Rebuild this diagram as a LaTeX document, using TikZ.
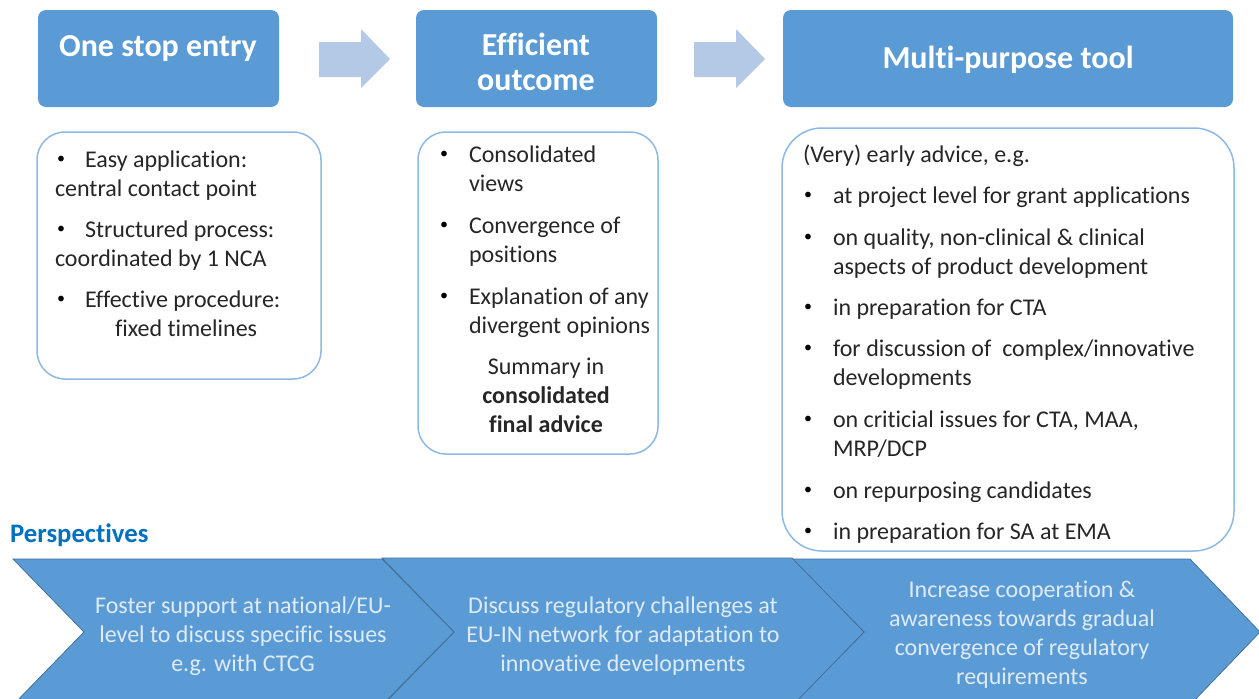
\documentclass[tikz,border=0pt]{standalone}
\usepackage{fontspec}
\setmainfont{Carlito}[Ligatures=NoCommon]
\definecolor{hdr}{HTML}{5B9BD5}
\definecolor{arrowfill}{HTML}{B4C9E6}
\definecolor{boxline}{HTML}{8DB9E4}
\definecolor{chevline}{HTML}{41719C}
\definecolor{persp}{HTML}{0070C0}
\definecolor{chevtext}{HTML}{DEEBF7}
\definecolor{bodytext}{HTML}{262626}
\tikzset{
  x=1pt,y=-1pt,
  body/.style={anchor=base west,inner sep=0pt,outer sep=0pt,yshift=-1.2pt,text=bodytext,font=\fontsize{24}{28}\selectfont},
  bodyc/.style={anchor=base,inner sep=0pt,outer sep=0pt,yshift=-1.2pt,text=bodytext,font=\fontsize{24}{28}\selectfont},
  bulletmark/.style={anchor=base west,inner sep=0pt,outer sep=0pt,yshift=3pt,text=black,font=\fontsize{16}{18}\selectfont},
  hdrtext/.style={anchor=base,inner sep=0pt,yshift=-1.2pt,text=white,font=\fontsize{32}{36}\selectfont\bfseries},
  chevlabel/.style={anchor=base,inner sep=0pt,yshift=-1.2pt,text=chevtext,font=\fontsize{24}{28}\selectfont},
  header/.style={fill=hdr,rounded corners=8pt},
  panel/.style={draw=boxline,line width=1.5pt,fill=white},
  blockarrow/.style={fill=arrowfill},
  chev/.style={fill=hdr,draw=chevline,line width=0.8pt},
}
\begin{document}
\begin{tikzpicture}
\useasboundingbox (0,0) rectangle (1259,699);
\clip (0,0) rectangle (1259,699);
% headers
\fill[header] (38,10) rectangle (279,107);
\fill[header] (416,10) rectangle (657,107);
\fill[header] (783,10) rectangle (1233,107);
\node[hdrtext] (h1) at (158,55) {One stop entry};
\node[hdrtext] (h2a) at (536,54) {Efficient};
\node[hdrtext] (h2b) at (536,89) {outcome};
\node[hdrtext] (h3) at (1008,67) {Multi-purpose tool};
% block arrows
\fill[blockarrow] (319,42) -- (361,42) -- (361,29) -- (390,59) -- (361,88) -- (361,77) -- (319,77) -- cycle;
\fill[blockarrow] (694,42) -- (736,42) -- (736,29) -- (765,59) -- (736,88) -- (736,77) -- (694,77) -- cycle;
% panels
\draw[panel,rounded corners=28pt] (37,132) rectangle (321,379);
\draw[panel,rounded corners=28pt] (418,132) rectangle (658,454);
\draw[panel,rounded corners=40pt] (782,128) rectangle (1234,551);
% panel 1
\foreach \yy/\nm in {166/a,236/b,306/c}{\node[bulletmark] (p1\nm) at (57,\yy) {•};}
\node[body] (t1a) at (85,166) {Easy application:};
\node[body] (t1b) at (55,195) {central contact point};
\node[body] (t1c) at (85,236) {Structured process:};
\node[body] (t1d) at (55,265) {coordinated by 1 NCA};
\node[body] (t1e) at (85,306) {Effective procedure:};
\node[body] (t1f) at (115,335) {fixed timelines};
% panel 2
\foreach \yy/\nm in {161/a,232/b,303/c}{\node[bulletmark] (p2\nm) at (440,\yy) {•};}
\node[body] (t2a) at (469,161) {Consolidated};
\node[body] (t2b) at (469,190) {views};
\node[body] (t2c) at (469,232) {Convergence of};
\node[body] (t2d) at (469,261) {positions};
\node[body] (t2e) at (469,303) {Explanation of any};
\node[body] (t2f) at (469,332) {divergent opinions};
\node[bodyc] (t2g) at (546,373) {Summary in};
\node[bodyc] (t2h) at (546,402) {\bfseries consolidated};
\node[bodyc] (t2i) at (546,431) {\bfseries final advice};
% panel 3
\node[body] (t3a) at (803,161) {(Very) early advice, e.g.};
\foreach \yy/\nm in {202/a,244/b,314/c,355/d,426/e,497/f,538/g}{\node[bulletmark] (p3\nm) at (804,\yy) {•};}
\node[body] (t3b) at (833,202) {at project level for grant applications};
\node[body] (t3c) at (833,244) {on quality, non-clinical \& clinical};
\node[body] (t3d) at (833,273) {aspects of product development};
\node[body] (t3e) at (833,314) {in preparation for CTA};
\node[body] (t3f) at (833,355) {for discussion of\ \ complex/innovative};
\node[body] (t3g) at (833,384) {developments};
\node[body] (t3h) at (833,426) {on criticial issues for CTA, MAA,};
\node[body] (t3i) at (833,455) {MRP/DCP};
\node[body] (t3j) at (833,497) {on repurposing candidates};
\node[body] (t3k) at (833,538) {in preparation for SA at EMA};
% perspectives
\node[anchor=base west,inner sep=0pt,yshift=-1.2pt,text=persp,font=\fontsize{26.7}{30}\selectfont\bfseries] (persp) at (10,541) {Perspectives};
% chevrons
\draw[chev] (792,559) -- (1190,559) -- (1260,632) -- (1190,705) -- (792,705) -- (864,632) -- cycle;
\draw[chev] (382,558) -- (792,558) -- (864,632) -- (792,706) -- (382,706) -- (454,632) -- cycle;
\draw[chev] (13,559) -- (382,559) -- (454,632) -- (382,705) -- (13,705) -- (84,632) -- cycle;
\node[chevlabel] (c1a) at (243,612) {Foster support at national/EU-};
\node[chevlabel] (c1b) at (243,641) {level to discuss specific issues};
\node[chevlabel] (c1c) at (243,670) {e.g. with CTCG};
\node[chevlabel] (c2a) at (623,612) {Discuss regulatory challenges at};
\node[chevlabel] (c2b) at (623,641) {EU-IN network for adaptation to};
\node[chevlabel] (c2c) at (623,670) {innovative developments};
\node[chevlabel] (c3a) at (1022,596) {Increase cooperation \&};
\node[chevlabel] (c3b) at (1022,625) {awareness towards gradual};
\node[chevlabel] (c3c) at (1022,654) {convergence of regulatory};
\node[chevlabel] (c3d) at (1022,683) {requirements};
\end{tikzpicture}
\end{document}
